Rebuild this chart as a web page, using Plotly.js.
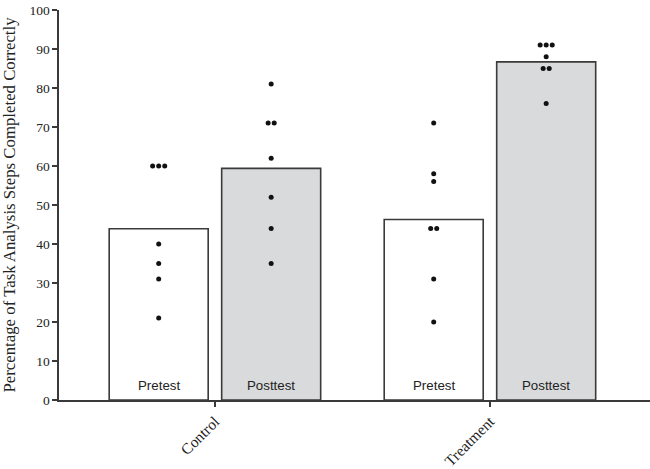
<!DOCTYPE html>
<html>
<head>
<meta charset="utf-8">
<script src="https://cdn.plot.ly/plotly-3.0.1.min.js"></script>
<style>html,body{margin:0;padding:0;background:#fff;}#chart{width:650px;height:469px;}</style>
</head>
<body>
<div id="chart"></div>
<script>
// Data
var groups = ["Control", "Treatment"];
var phases = ["Pretest", "Posttest"];
var pretestMeans = [43.9, 46.3];
var posttestMeans = [59.4, 86.7];
var controlPretest = [60, 60, 60, 40, 35, 31, 21];
var controlPosttest = [81, 71, 71, 62, 52, 44, 35];
var treatmentPretest = [71, 58, 56, 44, 44, 31, 20];
var treatmentPosttest = [91, 91, 91, 88, 85, 85, 76];

// Layout geometry (axis units: one unit = distance between groups)
var gx = [0, 1];
var barW = 0.36;
var barOff = 0.2045;
var dupStep = 0.022;
var lineCol = "#3a3a3a";

function dotTrace(vals, center) {
  var counts = {};
  vals.forEach(function (v) { counts[v] = (counts[v] || 0) + 1; });
  var seen = {};
  var xs = vals.map(function (v) {
    var n = counts[v];
    var i = seen[v] || 0;
    seen[v] = i + 1;
    return center + (i - (n - 1) / 2) * dupStep;
  });
  return {
    type: "scatter", mode: "markers", x: xs, y: vals,
    marker: { color: "#111", size: 5 }, showlegend: false, hoverinfo: "y"
  };
}

var traces = [
  {
    type: "bar", name: phases[0], x: gx, y: pretestMeans, width: barW,
    offset: -barOff - barW / 2,
    marker: { color: "#ffffff", line: { color: lineCol, width: 1.6 } },
    showlegend: false
  },
  {
    type: "bar", name: phases[1], x: gx, y: posttestMeans, width: barW,
    offset: barOff - barW / 2,
    marker: { color: "#d9dadc", line: { color: lineCol, width: 1.6 } },
    showlegend: false
  },
  dotTrace(controlPretest, gx[0] - barOff),
  dotTrace(controlPosttest, gx[0] + barOff),
  dotTrace(treatmentPretest, gx[1] - barOff),
  dotTrace(treatmentPosttest, gx[1] + barOff)
];

var annotations = [];
gx.forEach(function (g) {
  [[-barOff, phases[0]], [barOff, phases[1]]].forEach(function (p) {
    annotations.push({
      x: g + p[0], y: 0, xref: "x", yref: "y", text: p[1], showarrow: false,
      yanchor: "bottom", yshift: 5,
      font: { family: "Liberation Sans, Arial, sans-serif", size: 13.3, color: "#222" }
    });
  });
});

var layout = {
  width: 650, height: 469,
  margin: { l: 59, r: 0, t: 10, b: 69 },
  paper_bgcolor: "#fff", plot_bgcolor: "#fff",
  barmode: "overlay",
  xaxis: {
    range: [-0.567, 1.582], showgrid: false, zeroline: false,
    showline: true, linecolor: lineCol, linewidth: 1.6,
    tickvals: gx, ticktext: groups, tickangle: -45,
    ticks: "outside", ticklen: 5, tickwidth: 1.5, tickcolor: lineCol,
    tickfont: { family: "Liberation Serif, Times New Roman, serif", size: 15.4, color: "#222" }
  },
  yaxis: {
    range: [0, 100], dtick: 10, showgrid: false, zeroline: false,
    showline: true, linecolor: lineCol, linewidth: 1.6,
    ticks: "outside", ticklen: 5, tickwidth: 1.5, tickcolor: lineCol,
    tickfont: { family: "Liberation Serif, Times New Roman, serif", size: 13.5, color: "#222" },
    title: { text: "Percentage of Task Analysis Steps Completed Correctly", standoff: 10,
      font: { family: "Liberation Serif, Times New Roman, serif", size: 16.8, color: "#222" } }
  },
  annotations: annotations
};

Plotly.newPlot("chart", traces, layout, { displayModeBar: false, staticPlot: true });
</script>
</body>
</html>
